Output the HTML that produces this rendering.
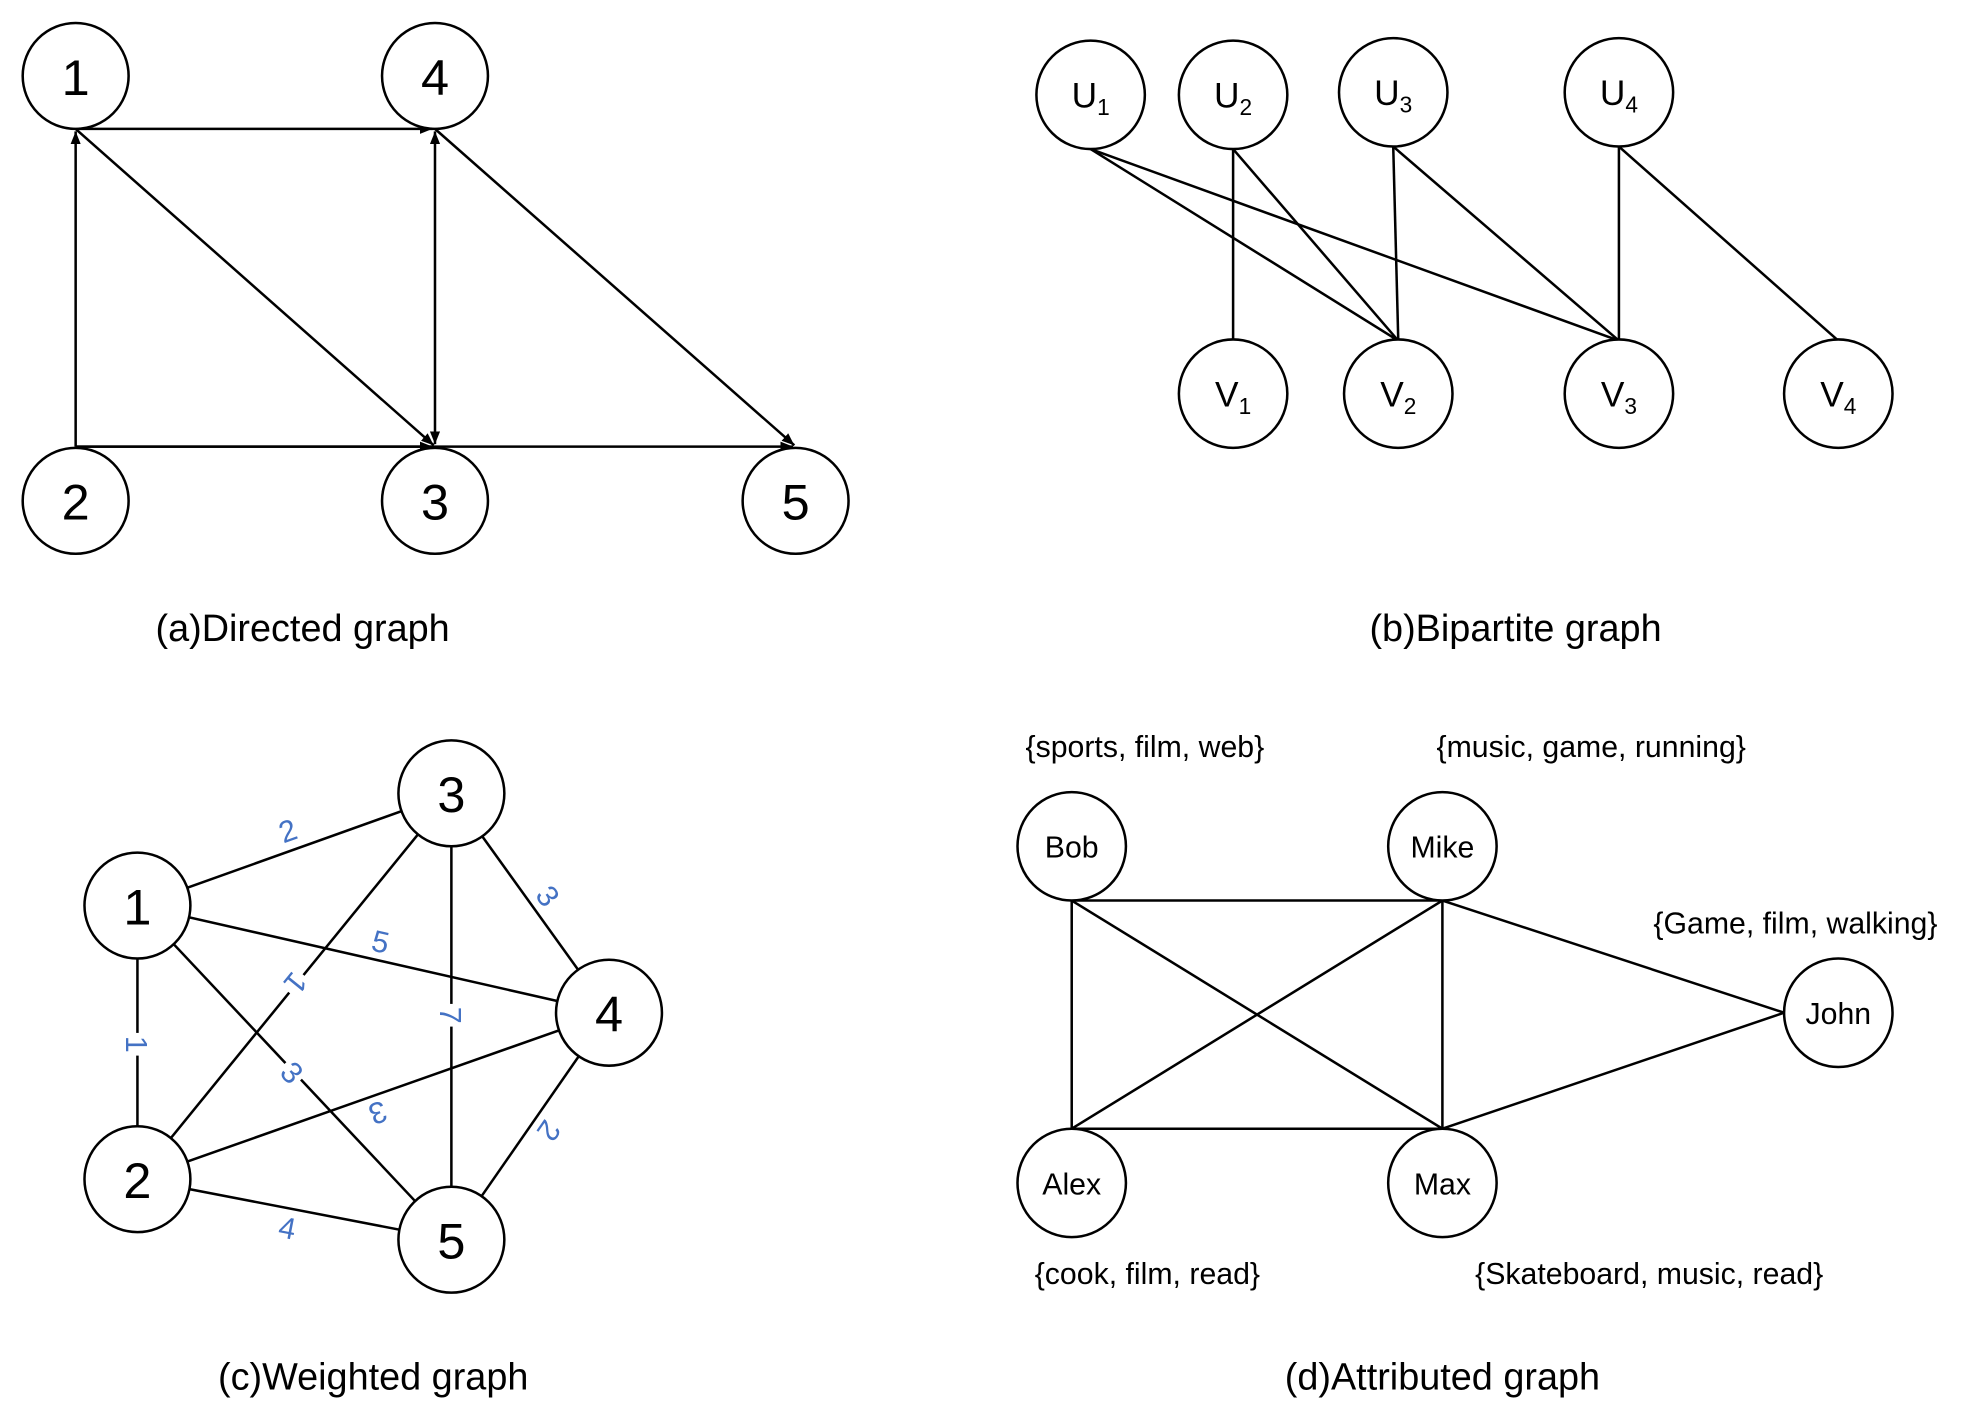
<!DOCTYPE html>
<html><head><meta charset="utf-8"><style>html,body{margin:0;padding:0;background:#fff}svg{display:block}</style></head>
<body>
<svg width="1977" height="1419" viewBox="0 0 1568 1125" xmlns="http://www.w3.org/2000/svg" font-family="Liberation Sans, sans-serif">
<defs>
<marker id="ar" markerWidth="10" markerHeight="8" refX="10" refY="4" orient="auto" markerUnits="userSpaceOnUse"><path d="M0,0 L10,4 L0,8 z" fill="#000"/></marker>
<marker id="as" markerWidth="10" markerHeight="8" refX="0" refY="4" orient="auto" markerUnits="userSpaceOnUse"><path d="M10,0 L0,4 L10,8 z" fill="#000"/></marker>
</defs>
<g stroke="#000" stroke-width="2" fill="none">
<!-- (a) -->
<line x1="60" y1="102" x2="343" y2="102" marker-end="url(#ar)"/>
<line x1="60" y1="354" x2="60" y2="104" marker-end="url(#ar)"/>
<line x1="60" y1="102" x2="344" y2="353" marker-end="url(#ar)"/>
<line x1="345" y1="104" x2="345" y2="352" marker-start="url(#as)" marker-end="url(#ar)"/>
<line x1="345" y1="102" x2="630" y2="353" marker-end="url(#ar)"/>
<line x1="60" y1="354" x2="629" y2="354" marker-end="url(#ar)"/>
<line x1="60" y1="354" x2="343" y2="354" marker-end="url(#ar)"/>
<circle cx="60" cy="60" r="42" fill="#fff"/><circle cx="345" cy="60" r="42" fill="#fff"/>
<circle cx="60" cy="397" r="42" fill="#fff"/><circle cx="345" cy="397" r="42" fill="#fff"/><circle cx="631" cy="397" r="42" fill="#fff"/>
<!-- (b) -->
<line x1="865" y1="118" x2="1109" y2="270"/><line x1="865" y1="118" x2="1284" y2="270"/>
<line x1="978" y1="118" x2="978" y2="270"/><line x1="978" y1="118" x2="1109" y2="270"/>
<line x1="1105" y1="116" x2="1109" y2="270"/><line x1="1105" y1="116" x2="1284" y2="270"/>
<line x1="1284" y1="116" x2="1284" y2="270"/><line x1="1284" y1="116" x2="1458" y2="270"/>
<circle cx="865" cy="75" r="43" fill="#fff"/><circle cx="978" cy="75" r="43" fill="#fff"/><circle cx="1105" cy="73" r="43" fill="#fff"/><circle cx="1284" cy="73" r="43" fill="#fff"/>
<circle cx="978" cy="312" r="43" fill="#fff"/><circle cx="1109" cy="312" r="43" fill="#fff"/><circle cx="1284" cy="312" r="43" fill="#fff"/><circle cx="1458" cy="312" r="43" fill="#fff"/>
<!-- (c) -->
<line x1="109" y1="718" x2="358" y2="629"/><line x1="109" y1="718" x2="483" y2="803"/>
<line x1="109" y1="718" x2="109" y2="935"/><line x1="109" y1="935" x2="358" y2="629"/>
<line x1="109" y1="718" x2="358" y2="983"/><line x1="358" y1="629" x2="358" y2="983"/>
<line x1="358" y1="629" x2="483" y2="803"/><line x1="109" y1="935" x2="483" y2="803"/>
<line x1="483" y1="803" x2="358" y2="983"/><line x1="109" y1="935" x2="358" y2="983"/>
<circle cx="109" cy="718" r="42" fill="#fff"/><circle cx="109" cy="935" r="42" fill="#fff"/>
<circle cx="358" cy="629" r="42" fill="#fff"/><circle cx="483" cy="803" r="42" fill="#fff"/><circle cx="358" cy="983" r="42" fill="#fff"/>
<!-- (d) -->
<line x1="850" y1="714" x2="1144" y2="714"/><line x1="850" y1="714" x2="850" y2="895"/>
<line x1="850" y1="714" x2="1144" y2="895"/><line x1="1144" y1="714" x2="850" y2="895"/>
<line x1="1144" y1="714" x2="1144" y2="895"/><line x1="850" y1="895" x2="1144" y2="895"/>
<line x1="1144" y1="714" x2="1415" y2="803"/><line x1="1144" y1="895" x2="1415" y2="803"/>
<circle cx="850" cy="671" r="43" fill="#fff"/><circle cx="1144" cy="671" r="43" fill="#fff"/><circle cx="1458" cy="803" r="43" fill="#fff"/>
<circle cx="850" cy="938" r="43" fill="#fff"/><circle cx="1144" cy="938" r="43" fill="#fff"/>
</g>
<g font-size="40" text-anchor="middle" fill="#000">
<text x="60" y="75">1</text><text x="345" y="75">4</text><text x="60" y="412">2</text><text x="345" y="412">3</text><text x="631" y="412">5</text>
<text x="109" y="733">1</text><text x="109" y="950">2</text><text x="358" y="644">3</text><text x="483" y="818">4</text><text x="358" y="998">5</text>
</g>
<g font-size="28" text-anchor="middle">
<text x="865" y="85">U<tspan font-size="18" dy="6">1</tspan></text>
<text x="978" y="85">U<tspan font-size="18" dy="6">2</tspan></text>
<text x="1105" y="83">U<tspan font-size="18" dy="6">3</tspan></text>
<text x="1284" y="83">U<tspan font-size="18" dy="6">4</tspan></text>
<text x="978" y="322">V<tspan font-size="18" dy="6">1</tspan></text>
<text x="1109" y="322">V<tspan font-size="18" dy="6">2</tspan></text>
<text x="1284" y="322">V<tspan font-size="18" dy="6">3</tspan></text>
<text x="1458" y="322">V<tspan font-size="18" dy="6">4</tspan></text>
</g>
<g font-size="24" text-anchor="middle">
<text x="850" y="680">Bob</text><text x="1144" y="680">Mike</text><text x="1458" y="812">John</text>
<text x="850" y="947">Alex</text><text x="1144" y="947">Max</text>
<text x="908" y="600">{sports, film, web}</text>
<text x="1262" y="600">{music, game, running}</text>
<text x="1424" y="740">{Game, film, walking}</text>
<text x="910" y="1018">{cook, film, read}</text>
<text x="1308" y="1018">{Skateboard, music, read}</text>
</g>
<g font-size="30" text-anchor="middle">
<text x="240" y="508">(a)Directed graph</text>
<text x="1202" y="508">(b)Bipartite graph</text>
<text x="296" y="1102">(c)Weighted graph</text>
<text x="1144" y="1102">(d)Attributed graph</text>
</g>
<g font-size="24" text-anchor="middle" fill="#4472C4">
<g transform="translate(228,658) rotate(-19.7)"><rect x="-9" y="-13" width="18" height="26" fill="#fff"/><text y="9">2</text></g>
<g transform="translate(302,746) rotate(12.8)"><rect x="-9" y="-13" width="18" height="26" fill="#fff"/><text y="9">5</text></g>
<g transform="translate(109,828) rotate(90)"><rect x="-9" y="-13" width="18" height="26" fill="#fff"/><text y="9">1</text></g>
<g transform="translate(235,780) rotate(129)"><rect x="-9" y="-13" width="18" height="26" fill="#fff"/><text y="9">1</text></g>
<g transform="translate(232,850) rotate(46.8)"><rect x="-9" y="-13" width="18" height="26" fill="#fff"/><text y="9">3</text></g>
<g transform="translate(358,805) rotate(90)"><rect x="-9" y="-13" width="18" height="26" fill="#fff"/><text y="9">7</text></g>
<g transform="translate(435,710) rotate(54)"><rect x="-9" y="-13" width="18" height="26" fill="#fff"/><text y="9">3</text></g>
<g transform="translate(300,883) rotate(160.6)"><rect x="-9" y="-13" width="18" height="26" fill="#fff"/><text y="9">3</text></g>
<g transform="translate(436,897) rotate(124.8)"><rect x="-9" y="-13" width="18" height="26" fill="#fff"/><text y="9">2</text></g>
<g transform="translate(228,973) rotate(10.9)"><rect x="-9" y="-13" width="18" height="26" fill="#fff"/><text y="9">4</text></g>
</g>
</svg>
</body></html>
